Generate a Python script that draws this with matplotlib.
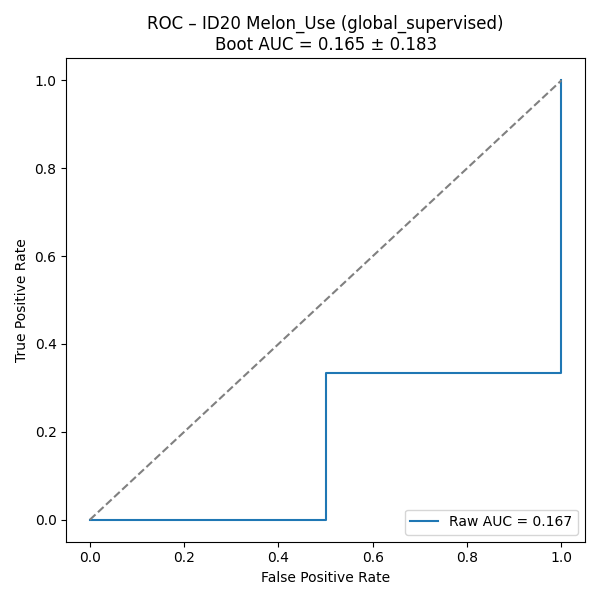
import matplotlib
matplotlib.use("Agg")
import matplotlib.pyplot as plt

fpr = [0.0, 0.5, 0.5, 1.0, 1.0]
tpr = [0.0, 0.0, 1/3, 1/3, 1.0]
raw_auc = 0.167
boot_mean = 0.165
boot_std = 0.183

fig, ax = plt.subplots(figsize=(6, 6), dpi=100)
ax.plot(fpr, tpr, color="#1f77b4", label=f"Raw AUC = {raw_auc:.3f}")
ax.plot([0, 1], [0, 1], linestyle="--", color="gray")
ax.set_xlabel("False Positive Rate")
ax.set_ylabel("True Positive Rate")
ax.set_title(f"ROC \u2013 ID20 Melon_Use (global_supervised)\nBoot AUC = {boot_mean:.3f} \u00b1 {boot_std:.3f}")
ax.legend(loc="lower right")
fig.tight_layout()
fig.savefig("out.png")
